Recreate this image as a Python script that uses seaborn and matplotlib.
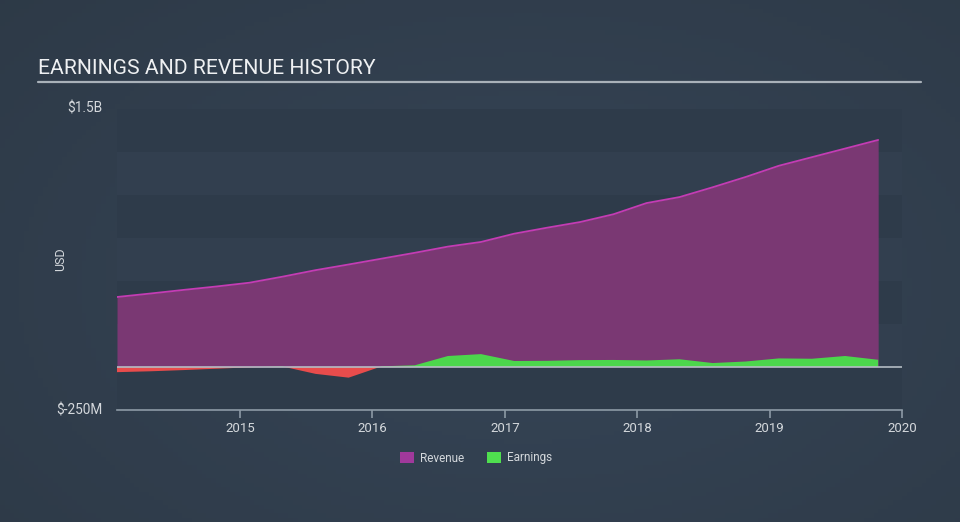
import numpy as np
import pandas as pd
import matplotlib
matplotlib.use("Agg")
import matplotlib.pyplot as plt
import seaborn as sns
from matplotlib.patches import Patch

# ---- data (billions USD) ----
dates = [2014.07, 2014.32, 2014.57, 2014.82, 2015.07, 2015.32, 2015.57, 2015.82,
         2016.07, 2016.32, 2016.57, 2016.82, 2017.07, 2017.32, 2017.57, 2017.82,
         2018.07, 2018.32, 2018.57, 2018.82, 2019.07, 2019.32, 2019.57, 2019.82]
revenue = [0.407, 0.427, 0.448, 0.468, 0.490, 0.525, 0.563, 0.596,
           0.630, 0.664, 0.700, 0.727, 0.775, 0.810, 0.843, 0.888,
           0.953, 0.988, 1.045, 1.105, 1.170, 1.220, 1.270, 1.320]
earnings = [-0.030, -0.025, -0.018, -0.010, -0.002, 0.003, -0.040, -0.062,
            0.004, 0.010, 0.064, 0.075, 0.035, 0.036, 0.040, 0.041,
            0.038, 0.045, 0.023, 0.032, 0.050, 0.048, 0.064, 0.042]
year_ticks = [2015, 2016, 2017, 2018, 2019, 2020]
y_ticks = [-0.25, 1.5]
y_labels = ["$-250M", "$1.5B"]

df = pd.DataFrame({"date": dates, "Revenue": revenue, "Earnings": earnings})

sns.set_theme(style="dark")
plt.rcParams['font.family'] = ['Roboto', 'DejaVu Sans']

W, H = 960, 522
fig = plt.figure(figsize=(W / 100, H / 100), dpi=100)

# background gradient
bg = fig.add_axes([0, 0, 1, 1], zorder=-10)
gx = np.linspace(0, 1, 200)
gy = np.linspace(0, 1, 120)
X, Y = np.meshgrid(gx, gy)
d = np.sqrt(((X - 0.55) / 0.8) ** 2 + ((Y - 0.55) / 0.9) ** 2)
c0 = np.array([0x36, 0x45, 0x57]) / 255
c1 = np.array([0x2d, 0x39, 0x46]) / 255
t = np.clip(d, 0, 1)[..., None]
img = c0 * (1 - t) + c1 * t
bg.imshow(img, aspect="auto", extent=[0, 1, 0, 1])
bg.axis("off")

ax = fig.add_axes([117 / W, 1 - 410 / H, (902 - 117) / W, (410 - 109) / H])
ax.set_facecolor("none")
ax.set_xlim(2014.07, 2020.0)
ax.set_ylim(-0.25, 1.5)

# horizontal bands
dark = "#2e3b4a"
light = "#323f4f"
edges = np.arange(-0.25, 1.5001, 0.25)
for i in range(len(edges) - 1):
    col = dark if i % 2 == 0 else light
    ax.axhspan(edges[i], edges[i + 1], color=col, lw=0, zorder=0)

# revenue area
ax.fill_between(df["date"], 0, df["Revenue"], color="#7a3873", lw=0, zorder=2)
sns.lineplot(data=df, x="date", y="Revenue", ax=ax, color="#c43cb4", lw=1.3, zorder=3)

# earnings area
e = df["Earnings"].to_numpy()
ax.fill_between(df["date"], 0, e, where=e >= 0, interpolate=True,
                color="#4cd64c", lw=0, zorder=4)
ax.fill_between(df["date"], 0, e, where=e <= 0, interpolate=True,
                color="#e84c4c", lw=0, zorder=4)

ax.axhline(0, color="#b4bcc4", lw=1.2, zorder=5)

# axes styling
for s in ["top", "right", "left"]:
    ax.spines[s].set_visible(False)
ax.spines["bottom"].set_color("#8d9aa6")
ax.spines["bottom"].set_linewidth(1.2)
ax.spines["bottom"].set_zorder(6)
ax.set_xticks(year_ticks)
ax.set_xticklabels([str(y) for y in year_ticks])
ax.tick_params(axis="x", colors="#8d9aa6", length=6, width=1.2, direction="out",
               labelcolor="#d4d8dc", labelsize=9.5, pad=3, bottom=True)
ax.set_yticks(y_ticks)
ax.set_yticklabels(y_labels)
ax.tick_params(axis="y", length=0, labelcolor="#d4d8dc", labelsize=9.8, pad=10.4, left=True)
ax.set_xlabel("")
ax.set_ylabel("")
ax.grid(False)
for lbl in ax.get_yticklabels():
    lbl.set_verticalalignment("center")

fig.text(61 / W, 1 - 259 / H, "USD", color="#d4d8dc", fontsize=9,
         rotation=90, ha="center", va="center")

# title
fig.text(38 / W, 1 - 68 / H, "EARNINGS AND REVENUE HISTORY", color="#eef0f2",
         fontsize=15.2, ha="left", va="center")
fig.add_artist(plt.Line2D([38 / W, 921 / W], [1 - 82 / H, 1 - 82 / H],
                          color="#a9b1b9", lw=1.6))

# legend
handles = [Patch(facecolor="#a0399b", edgecolor="none", label="Revenue"),
           Patch(facecolor="#4fdf4f", edgecolor="none", label="Earnings")]
leg = fig.legend(handles=handles, loc="center", bbox_to_anchor=(476 / W, 1 - 458 / H),
                 ncol=2, frameon=False, fontsize=8.5, handlelength=1.2,
                 handleheight=1.0, columnspacing=2.0, handletextpad=0.5)
for txt in leg.get_texts():
    txt.set_color("#d4d8dc")

fig.savefig("out.png", dpi=100)
